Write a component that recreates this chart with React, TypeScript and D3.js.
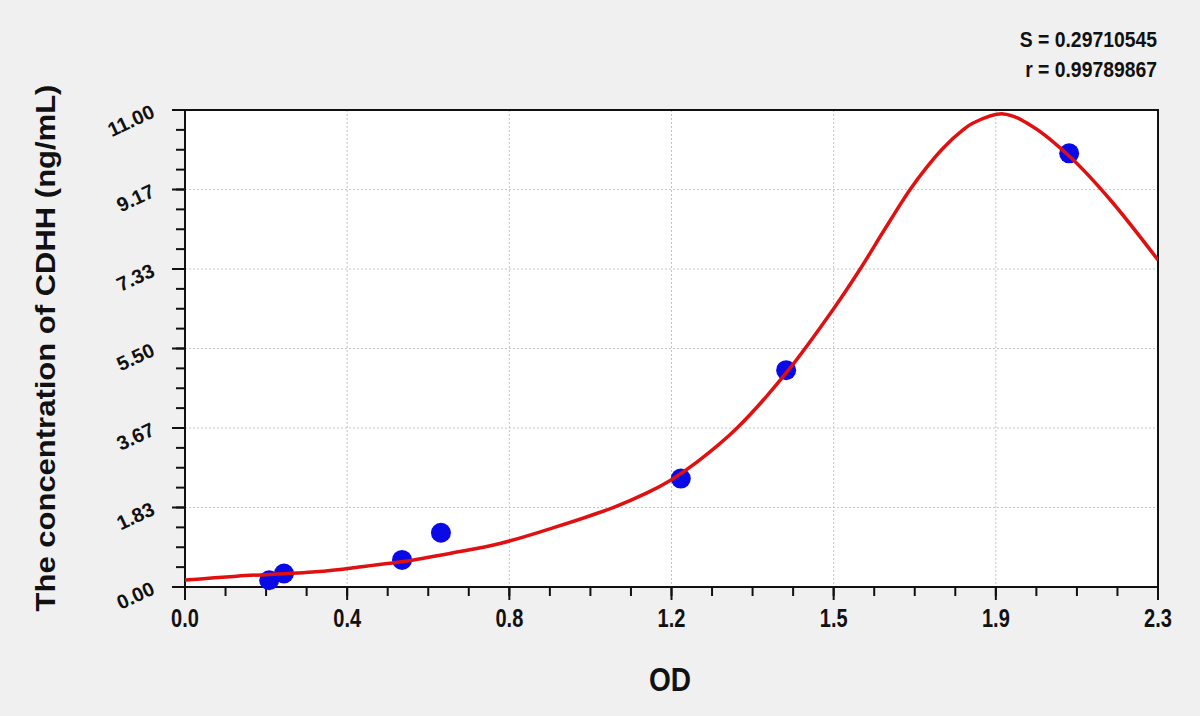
import React from "react";
import * as d3 from "d3";

// standard points (OD, concentration)
const standardOD = [0.199, 0.234, 0.513, 0.605, 1.172, 1.421, 2.09];
const standardConc = [0.156, 0.312, 0.625, 1.25, 2.5, 5, 10];

// fitted curve
const curveOD = [0, 0.123, 0.31, 0.428, 0.511, 0.629, 0.747, 0.875, 1.012, 1.092, 1.149, 1.21, 1.305, 1.423, 1.532, 1.596, 1.654, 1.714, 1.754, 1.792, 1.839, 1.863, 1.934, 2.005, 2.092, 2.187, 2.3];
const curveConc = [0.16, 0.25, 0.35, 0.48, 0.58, 0.78, 1.01, 1.38, 1.833, 2.17, 2.47, 2.88, 3.667, 4.96, 6.4, 7.333, 8.25, 9.167, 9.69, 10.12, 10.54, 10.7, 10.91, 10.61, 9.92, 8.93, 7.54];

const xTickValues = [0, 0.3833, 0.7667, 1.15, 1.5333, 1.9167, 2.3];
const xTickLabels = ["0.0", "0.4", "0.8", "1.2", "1.5", "1.9", "2.3"];
const yTickValues = [0, 1.8333, 3.6667, 5.5, 7.3333, 9.1667, 11];
const yTickLabels = ["0.00", "1.83", "3.67", "5.50", "7.33", "9.17", "11.00"];

const statLines = ["S = 0.29710545", "r = 0.99789867"];

const W = 1200;
const H = 716;
const margin = { top: 110, right: 42, bottom: 129, left: 185 };
const font = "Arial, 'Liberation Sans', sans-serif";

export default function App() {
  const innerW = W - margin.left - margin.right;
  const innerH = H - margin.top - margin.bottom;

  const x = d3.scaleLinear().domain([0, 2.3]).range([0, innerW]);
  const y = d3.scaleLinear().domain([0, 11]).range([innerH, 0]);

  const xMinor = d3.range(25).map((i) => (i * 2.3) / 24);
  const yMinor = d3.range(25).map((i) => (i * 11) / 24);

  const line = d3
    .line<number>()
    .x((_, i) => x(curveOD[i]))
    .y((d) => y(d))
    .curve(d3.curveCatmullRom.alpha(0.5));

  return (
    <svg
      width={W}
      height={H}
      style={{ position: "absolute", left: 0, top: 0, background: "#f0f0f0" }}
      fontFamily={font}
    >
      <defs>
        <clipPath id="plot-clip">
          <rect x={0} y={0} width={innerW} height={innerH} />
        </clipPath>
      </defs>

      {statLines.map((s, i) => (
        <text
          key={s}
          transform={`translate(1157,${47 + i * 30}) scale(0.88,1)`}
          textAnchor="end"
          fontSize={22}
          fontWeight="bold"
          fill="#111"
        >
          {s}
        </text>
      ))}

      <g transform={`translate(${margin.left},${margin.top})`}>
        <rect width={innerW} height={innerH} fill="#fff" />

        {/* grid */}
        {xTickValues.slice(1, -1).map((v) => (
          <line key={`gx${v}`} x1={x(v)} x2={x(v)} y1={0} y2={innerH} stroke="#c4c4c4" strokeDasharray="2,2" />
        ))}
        {yTickValues.slice(1, -1).map((v) => (
          <line key={`gy${v}`} x1={0} x2={innerW} y1={y(v)} y2={y(v)} stroke="#c4c4c4" strokeDasharray="2,2" />
        ))}

        <rect width={innerW} height={innerH} fill="none" stroke="#111" strokeWidth={2} />

        {/* x axis ticks */}
        {xMinor.map((v) => (
          <line key={`mx${v}`} x1={x(v)} x2={x(v)} y1={innerH} y2={innerH + 9} stroke="#111" strokeWidth={2} />
        ))}
        {xTickValues.map((v, i) => (
          <g key={`tx${v}`}>
            <line x1={x(v)} x2={x(v)} y1={innerH} y2={innerH + 13} stroke="#111" strokeWidth={2} />
            <text
              transform={`translate(${x(v)},${innerH + 40}) scale(0.8,1)`}
              textAnchor="middle"
              fontSize={25}
              fontWeight="bold"
              fill="#111"
            >
              {xTickLabels[i]}
            </text>
          </g>
        ))}

        {/* y axis ticks */}
        {yMinor.map((v) => (
          <line key={`my${v}`} x1={-9} x2={0} y1={y(v)} y2={y(v)} stroke="#111" strokeWidth={2} />
        ))}
        {yTickValues.map((v, i) => (
          <g key={`ty${v}`}>
            <line x1={-13} x2={0} y1={y(v)} y2={y(v)} stroke="#111" strokeWidth={2} />
            <text
              transform={`translate(-29,${y(v) + 6.5}) rotate(-25)`}
              textAnchor="end"
              fontSize={20}
              fontWeight="bold"
              fill="#111"
            >
              {yTickLabels[i]}
            </text>
          </g>
        ))}

        {/* standards */}
        {standardOD.map((od, i) => (
          <circle key={`p${i}`} cx={x(od)} cy={y(standardConc[i])} r={10} fill="#0a0ae6" />
        ))}

        {/* fitted curve */}
        <path d={line(curveConc) ?? ""} fill="none" stroke="#e01010" strokeWidth={3.5} clipPath="url(#plot-clip)" />
      </g>

      <text
        transform="translate(670,691) scale(0.85,1)"
        textAnchor="middle"
        fontSize={33}
        fontWeight="bold"
        fill="#111"
      >
        OD
      </text>
      <text
        transform="translate(55,348) scale(0.87,1) rotate(-90)"
        textAnchor="middle"
        fontSize={31}
        fontWeight="bold"
        fill="#111"
      >
        The concentration of CDHH (ng/mL)
      </text>
    </svg>
  );
}
